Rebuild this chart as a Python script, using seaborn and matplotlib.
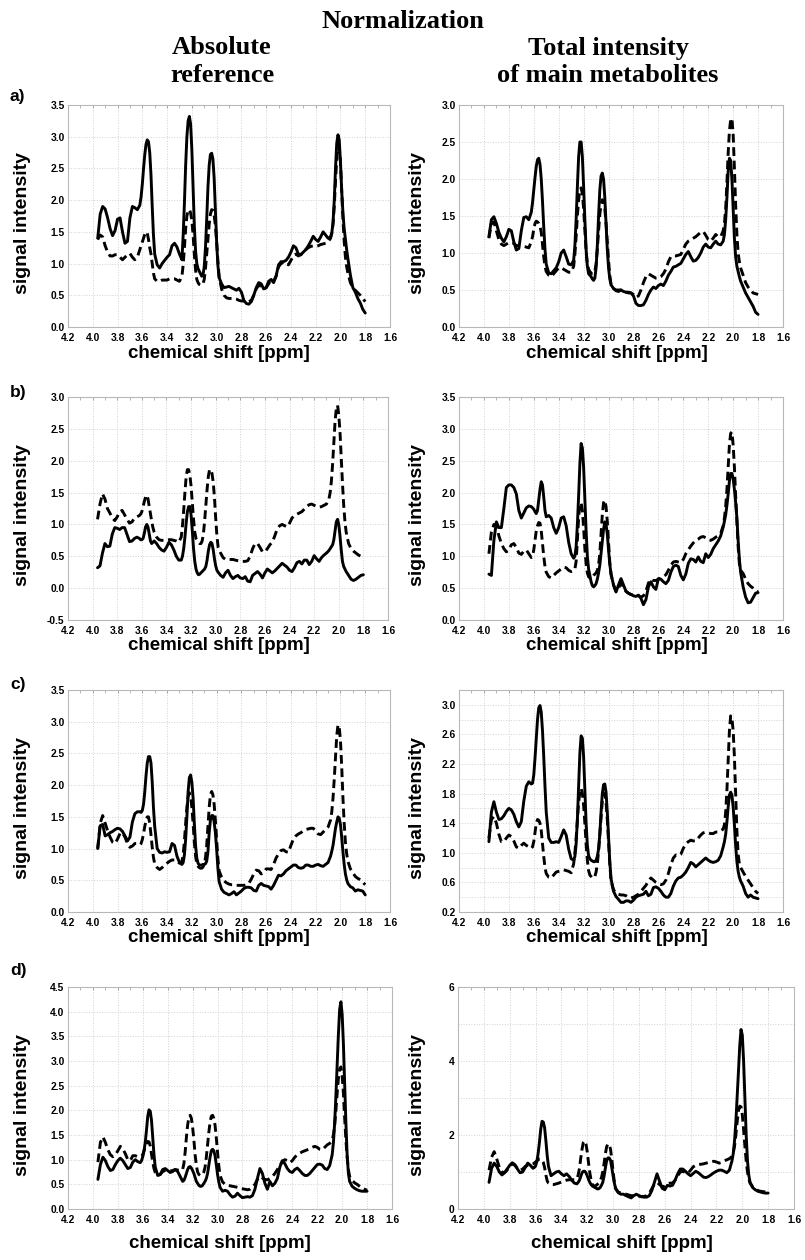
import numpy as np
import pandas as pd
import matplotlib
matplotlib.use("Agg")
import matplotlib.pyplot as plt
from matplotlib.ticker import MultipleLocator
import seaborn as sns

# chemical shift grid [ppm]; finer sampling across the sharp resonances
ppm = np.round(np.concatenate([
    np.arange(3.96, 3.615, -0.02),   # 3.96 ... 3.62
    np.arange(3.61, 3.495, -0.01),   # 3.61 ... 3.50
    np.arange(3.48, 3.275, -0.02),   # 3.48 ... 3.28
    np.arange(3.27, 2.975, -0.01),   # 3.27 ... 2.98
    np.arange(2.96, 2.075, -0.02),   # 2.96 ... 2.08
    np.arange(2.07, 1.935, -0.01),   # 2.07 ... 1.94
    np.arange(1.92, 1.795, -0.02),   # 1.92 ... 1.80
]), 2)

x_ticks = [4.2, 4.0, 3.8, 3.6, 3.4, 3.2, 3.0, 2.8, 2.6, 2.4, 2.2, 2.0, 1.8, 1.6]

# ---------------- a) ----------------
a_abs_solid = [
    1.40, 1.78, 1.90, 1.86, 1.72, 1.55, 1.44, 1.52, 1.70, 1.72, 1.50, 1.32, 1.35, 1.72, 1.90, 1.88, 1.85, 1.92,
    2.05, 2.25, 2.50, 2.72, 2.88, 2.95, 2.92, 2.75, 2.40, 1.90, 1.45, 1.15,
    0.98, 0.93, 1.00, 1.05, 1.10, 1.14, 1.28, 1.32, 1.26, 1.15, 1.06,
    1.45, 1.95, 2.55, 3.00, 3.25, 3.32, 3.20, 2.80, 2.20, 1.60,
    1.20, 1.00, 0.92, 0.88, 0.84, 0.80, 0.82, 0.95, 1.25, 1.70,
    2.20, 2.55, 2.72, 2.74, 2.65, 2.35, 1.85, 1.35, 0.98, 0.78,
    0.68, 0.62, 0.63, 0.64, 0.62, 0.60, 0.58, 0.61, 0.55, 0.42,
    0.37, 0.36, 0.40, 0.50, 0.62, 0.70, 0.68, 0.60, 0.62, 0.72,
    0.75, 0.70, 0.80, 0.98, 1.03, 1.03, 1.05, 1.10, 1.18, 1.28,
    1.25, 1.15, 1.14, 1.18, 1.22, 1.28, 1.35, 1.43, 1.38, 1.35,
    1.42, 1.50, 1.45, 1.40, 1.42,
    1.48, 1.65, 2.00, 2.50, 2.90, 3.03, 2.95, 2.60, 2.15, 1.80, 1.55, 1.38, 1.22, 1.08,
    0.82, 0.62, 0.55, 0.45, 0.38, 0.28, 0.22,
]
a_abs_dash = [
    1.38, 1.45, 1.42, 1.28, 1.18, 1.12, 1.12, 1.14, 1.14, 1.10, 1.06, 1.10, 1.14, 1.16, 1.10, 1.06, 1.10, 1.22,
    1.28, 1.34, 1.40, 1.46, 1.50, 1.48, 1.38, 1.25, 1.15, 1.00, 0.85, 0.76,
    0.72, 0.72, 0.74, 0.74, 0.74, 0.76, 0.76, 0.76, 0.74, 0.72, 0.80,
    0.98, 1.25, 1.55, 1.75, 1.84, 1.85, 1.80, 1.68, 1.45, 1.15,
    0.90, 0.75, 0.70, 0.67, 0.66, 0.66, 0.68, 0.75, 0.92, 1.15,
    1.40, 1.62, 1.78, 1.85, 1.84, 1.76, 1.60, 1.35, 1.05, 0.80,
    0.60, 0.50, 0.46, 0.45, 0.45, 0.45, 0.44, 0.42, 0.41, 0.41,
    0.40, 0.40, 0.42, 0.50, 0.60, 0.66, 0.64, 0.60, 0.62, 0.68,
    0.74, 0.72, 0.80, 0.95, 1.00, 1.02, 1.00, 0.98, 1.05, 1.12,
    1.15, 1.12, 1.14, 1.18, 1.22, 1.25, 1.27, 1.28, 1.27, 1.28,
    1.30, 1.31, 1.32, 1.34, 1.40,
    1.48, 1.62, 1.90, 2.30, 2.65, 2.85, 2.85, 2.60, 2.15, 1.70, 1.35, 1.10, 0.95, 0.85,
    0.70, 0.62, 0.58, 0.54, 0.50, 0.45, 0.40,
]
a_tot_solid = [
    1.22, 1.45, 1.49, 1.40, 1.28, 1.20, 1.15, 1.22, 1.32, 1.30, 1.15, 1.04, 1.06, 1.30, 1.48, 1.49, 1.45, 1.55,
    1.68, 1.85, 2.02, 2.17, 2.26, 2.28, 2.20, 2.00, 1.70, 1.35, 1.05, 0.85,
    0.73, 0.72, 0.76, 0.80, 0.88, 1.00, 1.04, 0.95, 0.85, 0.84, 0.90,
    1.10, 1.45, 1.90, 2.30, 2.50, 2.50, 2.30, 1.90, 1.45, 1.05,
    0.82, 0.72, 0.70, 0.68, 0.65, 0.63, 0.66, 0.80, 1.10, 1.50,
    1.85, 2.04, 2.08, 2.00, 1.75, 1.40, 1.05, 0.80, 0.65, 0.57,
    0.52, 0.49, 0.48, 0.50, 0.48, 0.47, 0.46, 0.46, 0.42, 0.32,
    0.29, 0.29, 0.30, 0.36, 0.44, 0.50, 0.54, 0.52, 0.56, 0.58,
    0.56, 0.62, 0.70, 0.75, 0.81, 0.82, 0.84, 0.86, 0.92, 0.98,
    1.02, 0.95, 0.89, 0.90, 0.94, 1.00, 1.08, 1.12, 1.08, 1.07,
    1.12, 1.16, 1.12, 1.11, 1.16,
    1.25, 1.45, 1.75, 2.10, 2.28, 2.25, 2.00, 1.60, 1.20, 0.95, 0.82, 0.75, 0.68, 0.62,
    0.54, 0.46, 0.40, 0.34, 0.28, 0.20, 0.17,
]
a_tot_dash = [
    1.20, 1.40, 1.42, 1.30, 1.18, 1.12, 1.10, 1.12, 1.14, 1.14, 1.13, 1.10, 1.10, 1.10, 1.09, 1.08, 1.07, 1.15,
    1.22, 1.32, 1.40, 1.43, 1.42, 1.40, 1.36, 1.28, 1.12, 0.95, 0.82, 0.75,
    0.70, 0.68, 0.72, 0.76, 0.80, 0.80, 0.78, 0.76, 0.74, 0.74, 0.82,
    0.98, 1.22, 1.50, 1.72, 1.85, 1.88, 1.80, 1.60, 1.30, 1.02,
    0.85, 0.78, 0.75, 0.73, 0.72, 0.72, 0.75, 0.85, 1.05, 1.30,
    1.52, 1.66, 1.72, 1.70, 1.60, 1.40, 1.15, 0.90, 0.70, 0.58,
    0.52, 0.50, 0.50, 0.50, 0.48, 0.47, 0.47, 0.46, 0.44, 0.40,
    0.42, 0.50, 0.60, 0.68, 0.72, 0.70, 0.68, 0.66, 0.66, 0.68,
    0.72, 0.78, 0.88, 0.95, 0.96, 0.96, 0.97, 0.98, 1.05, 1.12,
    1.16, 1.18, 1.20, 1.22, 1.25, 1.28, 1.29, 1.24, 1.18, 1.16,
    1.20, 1.25, 1.22, 1.22, 1.30,
    1.40, 1.60, 1.95, 2.35, 2.65, 2.80, 2.82, 2.60, 2.15, 1.65, 1.25, 1.00, 0.88, 0.80,
    0.70, 0.60, 0.54, 0.50, 0.46, 0.45, 0.44,
]

# ---------------- b) ----------------
b_abs_solid = [
    0.32, 0.35, 0.55, 0.70, 0.65, 0.66, 0.85, 0.95, 0.94, 0.92, 0.95, 0.95, 0.84, 0.73, 0.74, 0.78, 0.80, 0.78,
    0.76, 0.76, 0.78, 0.86, 0.96, 1.00, 0.96, 0.85, 0.74, 0.70, 0.72, 0.74,
    0.70, 0.64, 0.60, 0.58, 0.64, 0.72, 0.68, 0.60, 0.50, 0.44, 0.44,
    0.50, 0.62, 0.80, 1.02, 1.20, 1.28, 1.28, 1.15, 0.90, 0.62,
    0.42, 0.30, 0.24, 0.21, 0.22, 0.24, 0.26, 0.28, 0.30, 0.34,
    0.44, 0.58, 0.68, 0.72, 0.70, 0.60, 0.46, 0.35, 0.28, 0.25,
    0.20, 0.17, 0.24, 0.28, 0.20, 0.15, 0.18, 0.20, 0.16, 0.15,
    0.18, 0.11, 0.10, 0.20, 0.23, 0.26, 0.22, 0.16, 0.24, 0.30,
    0.27, 0.24, 0.27, 0.31, 0.35, 0.39, 0.36, 0.33, 0.28, 0.26,
    0.32, 0.40, 0.42, 0.38, 0.44, 0.44, 0.37, 0.42, 0.51, 0.46,
    0.42, 0.48, 0.52, 0.55, 0.59,
    0.62, 0.65, 0.68, 0.76, 0.90, 1.04, 1.08, 1.00, 0.82, 0.60, 0.42, 0.34, 0.30, 0.26,
    0.20, 0.14, 0.12, 0.14, 0.17, 0.20, 0.21,
]
b_abs_dash = [
    1.08, 1.32, 1.48, 1.40, 1.25, 1.18, 1.10, 1.06, 1.12, 1.20, 1.22, 1.15, 1.08, 1.02, 1.04, 1.10, 1.12, 1.14,
    1.16, 1.20, 1.28, 1.36, 1.43, 1.46, 1.40, 1.28, 1.15, 1.05, 0.95, 0.88,
    0.80, 0.76, 0.75, 0.75, 0.75, 0.76, 0.76, 0.75, 0.74, 0.72, 0.80,
    0.98, 1.22, 1.50, 1.75, 1.86, 1.86, 1.78, 1.60, 1.35, 1.08,
    0.88, 0.78, 0.74, 0.72, 0.70, 0.70, 0.74, 0.85, 1.05, 1.30,
    1.55, 1.75, 1.86, 1.86, 1.80, 1.66, 1.42, 1.10, 0.82, 0.64,
    0.55, 0.48, 0.45, 0.45, 0.45, 0.45, 0.44, 0.43, 0.42, 0.42,
    0.42, 0.43, 0.50, 0.62, 0.70, 0.70, 0.64, 0.57, 0.57, 0.62,
    0.68, 0.72, 0.82, 0.93, 0.98, 1.00, 0.98, 0.96, 1.02, 1.10,
    1.14, 1.16, 1.18, 1.20, 1.24, 1.28, 1.31, 1.32, 1.30, 1.28,
    1.27, 1.28, 1.30, 1.32, 1.40,
    1.50, 1.68, 1.95, 2.30, 2.62, 2.82, 2.87, 2.72, 2.45, 2.05, 1.65, 1.30, 1.05, 0.88,
    0.70, 0.62, 0.58, 0.55, 0.52, 0.50, 0.48,
]
b_tot_solid = [
    0.72, 0.70, 1.25, 1.54, 1.45, 1.45, 1.75, 2.08, 2.12, 2.12, 2.08, 1.98, 1.72, 1.60, 1.68, 1.76, 1.79, 1.78,
    1.76, 1.74, 1.70, 1.67, 1.72, 1.88, 2.05, 2.17, 2.12, 1.93, 1.72, 1.62,
    1.64, 1.60, 1.45, 1.36, 1.45, 1.60, 1.62, 1.48, 1.22, 1.04, 0.97,
    1.00, 1.15, 1.50, 1.95, 2.45, 2.77, 2.70, 2.40, 1.90, 1.40,
    1.00, 0.80, 0.70, 0.60, 0.54, 0.52, 0.54, 0.57, 0.64, 0.74,
    0.86, 1.05, 1.25, 1.42, 1.54, 1.50, 1.35, 1.10, 0.88, 0.72,
    0.55, 0.44, 0.55, 0.65, 0.55, 0.45, 0.42, 0.40, 0.38, 0.37,
    0.39, 0.34, 0.24, 0.32, 0.52, 0.60, 0.52, 0.48, 0.65, 0.64,
    0.60, 0.57, 0.62, 0.75, 0.84, 0.86, 0.84, 0.70, 0.63, 0.72,
    0.89, 0.96, 0.95, 0.91, 0.99, 0.92, 0.90, 1.04, 0.98, 1.03,
    1.12, 1.18, 1.24, 1.32, 1.46,
    1.55, 1.65, 1.80, 1.98, 2.18, 2.30, 2.30, 2.22, 2.05, 1.85, 1.60, 1.25, 0.95, 0.75,
    0.52, 0.36, 0.27, 0.28, 0.35, 0.42, 0.43,
]
b_tot_dash = [
    1.04, 1.38, 1.50, 1.48, 1.32, 1.20, 1.12, 1.07, 1.10, 1.18, 1.20, 1.14, 1.05, 1.03, 1.08, 1.10, 1.04, 0.98,
    1.00, 1.10, 1.25, 1.40, 1.48, 1.53, 1.52, 1.40, 1.20, 1.00, 0.84, 0.75,
    0.68, 0.66, 0.70, 0.74, 0.77, 0.80, 0.83, 0.82, 0.78, 0.76, 0.78,
    0.80, 0.92, 1.25, 1.60, 1.82, 1.84, 1.72, 1.45, 1.12, 0.88,
    0.74, 0.68, 0.66, 0.65, 0.67, 0.70, 0.72, 0.74, 0.78, 0.86,
    1.05, 1.35, 1.65, 1.84, 1.88, 1.78, 1.55, 1.22, 0.90, 0.72,
    0.55, 0.45, 0.50, 0.58, 0.52, 0.45, 0.42, 0.40, 0.40, 0.39,
    0.38, 0.36, 0.38, 0.45, 0.58, 0.64, 0.62, 0.62, 0.64, 0.66,
    0.68, 0.71, 0.78, 0.86, 0.91, 0.92, 0.91, 0.90, 0.95, 1.04,
    1.10, 1.16, 1.21, 1.25, 1.27, 1.30, 1.31, 1.29, 1.26, 1.25,
    1.27, 1.30, 1.32, 1.36, 1.48,
    1.60, 1.78, 2.05, 2.40, 2.75, 2.93, 2.95, 2.75, 2.40, 1.95, 1.55, 1.15, 0.88, 0.78,
    0.73, 0.64, 0.57, 0.53, 0.50, 0.46, 0.44,
]

# ---------------- c) ----------------
c_abs_solid = [
    1.00, 1.36, 1.38, 1.20, 1.22, 1.25, 1.27, 1.30, 1.32, 1.31, 1.27, 1.20, 1.12, 1.18, 1.42, 1.55, 1.58, 1.58,
    1.57, 1.60, 1.70, 1.90, 2.15, 2.35, 2.45, 2.45, 2.35, 2.05, 1.65, 1.35,
    1.00, 0.94, 0.93, 0.95, 0.94, 0.95, 1.08, 1.05, 0.88, 0.78, 0.75,
    0.78, 0.90, 1.15, 1.50, 1.90, 2.12, 2.16, 2.05, 1.80, 1.40,
    1.05, 0.85, 0.77, 0.74, 0.74, 0.74, 0.75, 0.75, 0.76, 0.80,
    0.95, 1.25, 1.45, 1.52, 1.52, 1.42, 1.25, 1.00, 0.70, 0.48,
    0.36, 0.31, 0.29, 0.27, 0.29, 0.32, 0.27, 0.30, 0.33, 0.37,
    0.39, 0.39, 0.38, 0.34, 0.33, 0.42, 0.45, 0.42, 0.41, 0.40,
    0.36, 0.42, 0.50, 0.58, 0.57, 0.60, 0.65, 0.68, 0.71, 0.74,
    0.74, 0.70, 0.69, 0.70, 0.74, 0.74, 0.72, 0.72, 0.74, 0.75,
    0.73, 0.72, 0.75, 0.78, 0.88,
    0.96, 1.05, 1.18, 1.32, 1.42, 1.50, 1.48, 1.38, 1.18, 0.95, 0.75, 0.60, 0.51, 0.45,
    0.40, 0.38, 0.33, 0.35, 0.34, 0.33, 0.27,
]
c_abs_dash = [
    1.00, 1.40, 1.52, 1.40, 1.28, 1.18, 1.10, 1.08, 1.15, 1.24, 1.25, 1.18, 1.08, 1.02, 1.04, 1.08, 1.08, 1.06,
    1.08, 1.14, 1.24, 1.35, 1.44, 1.50, 1.50, 1.40, 1.22, 1.02, 0.86, 0.76,
    0.70, 0.67, 0.70, 0.74, 0.77, 0.80, 0.82, 0.82, 0.80, 0.77, 0.80,
    0.90, 1.12, 1.40, 1.65, 1.82, 1.88, 1.82, 1.65, 1.40, 1.10,
    0.88, 0.76, 0.72, 0.70, 0.69, 0.69, 0.71, 0.75, 0.85, 1.05,
    1.35, 1.65, 1.85, 1.90, 1.85, 1.70, 1.45, 1.15, 0.85, 0.65,
    0.55, 0.49, 0.46, 0.44, 0.43, 0.43, 0.42, 0.42, 0.42, 0.42,
    0.43, 0.45, 0.52, 0.60, 0.66, 0.65, 0.60, 0.62, 0.68, 0.68,
    0.67, 0.75, 0.85, 0.92, 0.97, 0.98, 0.95, 0.94, 1.05, 1.15,
    1.20, 1.23, 1.25, 1.28, 1.30, 1.31, 1.32, 1.32, 1.28, 1.23,
    1.22, 1.26, 1.30, 1.34, 1.45,
    1.58, 1.80, 2.10, 2.45, 2.78, 2.95, 2.92, 2.70, 2.30, 1.80, 1.40, 1.10, 0.92, 0.80,
    0.68, 0.62, 0.56, 0.53, 0.51, 0.47, 0.43,
]
c_tot_solid = [
    1.15, 1.55, 1.69, 1.55, 1.45, 1.46, 1.50, 1.56, 1.60, 1.58, 1.52, 1.42, 1.35, 1.42, 1.70, 1.90, 1.96, 1.93,
    1.94, 2.05, 2.28, 2.55, 2.80, 2.96, 2.99, 2.90, 2.65, 2.30, 1.90, 1.55,
    1.20, 1.14, 1.14, 1.15, 1.14, 1.22, 1.31, 1.24, 1.05, 0.92, 0.90,
    0.95, 1.12, 1.45, 1.90, 2.35, 2.58, 2.55, 2.30, 1.85, 1.40,
    1.10, 0.96, 0.92, 0.90, 0.89, 0.88, 0.88, 0.90, 0.95, 1.05,
    1.25, 1.55, 1.80, 1.92, 1.93, 1.82, 1.55, 1.20, 0.88, 0.65,
    0.48, 0.41, 0.37, 0.33, 0.33, 0.35, 0.35, 0.33, 0.36, 0.40,
    0.42, 0.43, 0.44, 0.48, 0.42, 0.44, 0.53, 0.54, 0.52, 0.48,
    0.43, 0.40, 0.40, 0.45, 0.55, 0.62, 0.66, 0.67, 0.70, 0.74,
    0.80, 0.87, 0.85, 0.81, 0.84, 0.87, 0.90, 0.93, 0.90, 0.88,
    0.87, 0.88, 0.90, 0.96, 1.08,
    1.15, 1.25, 1.42, 1.62, 1.78, 1.82, 1.78, 1.62, 1.38, 1.10, 0.88, 0.75, 0.67, 0.62,
    0.55, 0.45, 0.40, 0.43, 0.40, 0.39, 0.38,
]
c_tot_dash = [
    1.20, 1.45, 1.49, 1.40, 1.25, 1.15, 1.15, 1.20, 1.24, 1.22, 1.16, 1.08, 1.06, 1.10, 1.13, 1.10, 1.08, 1.06,
    1.08, 1.15, 1.28, 1.40, 1.45, 1.44, 1.40, 1.30, 1.12, 0.95, 0.80, 0.72,
    0.67, 0.66, 0.70, 0.74, 0.75, 0.76, 0.77, 0.76, 0.75, 0.73, 0.85,
    1.00, 1.20, 1.45, 1.68, 1.82, 1.87, 1.80, 1.64, 1.40, 1.12,
    0.90, 0.76, 0.70, 0.68, 0.66, 0.66, 0.68, 0.74, 0.85, 1.02,
    1.25, 1.50, 1.70, 1.80, 1.80, 1.68, 1.45, 1.15, 0.85, 0.62,
    0.50, 0.46, 0.44, 0.43, 0.43, 0.42, 0.40, 0.39, 0.40, 0.42,
    0.44, 0.48, 0.52, 0.56, 0.62, 0.66, 0.63, 0.60, 0.58, 0.57,
    0.58, 0.63, 0.72, 0.84, 0.93, 0.97, 0.96, 0.98, 1.06, 1.12,
    1.15, 1.17, 1.16, 1.16, 1.20, 1.24, 1.27, 1.28, 1.27, 1.26,
    1.26, 1.28, 1.28, 1.30, 1.32,
    1.38, 1.55, 1.85, 2.25, 2.65, 2.85, 2.82, 2.65, 2.30, 1.80, 1.30, 0.98, 0.85, 0.80,
    0.74, 0.68, 0.63, 0.58, 0.53, 0.48, 0.45,
]

# ---------------- d) ----------------
d_abs_solid = [
    0.60, 0.90, 1.05, 0.98, 0.86, 0.78, 0.80, 0.90, 0.98, 1.03, 0.98, 0.90, 0.82, 0.84, 0.95, 1.00, 0.96, 0.94,
    0.98, 1.06, 1.18, 1.35, 1.60, 1.88, 2.01, 1.98, 1.80, 1.45, 1.10, 0.85,
    0.68, 0.70, 0.80, 0.82, 0.78, 0.74, 0.76, 0.80, 0.76, 0.66, 0.56,
    0.58, 0.64, 0.72, 0.80, 0.85, 0.86, 0.83, 0.78, 0.72, 0.64,
    0.56, 0.52, 0.48, 0.46, 0.46, 0.48, 0.52, 0.56, 0.62, 0.72,
    0.88, 1.05, 1.18, 1.21, 1.18, 1.08, 0.90, 0.70, 0.55, 0.44,
    0.36, 0.38, 0.36, 0.29, 0.24, 0.26, 0.32, 0.27, 0.23, 0.24,
    0.25, 0.24, 0.27, 0.40, 0.62, 0.82, 0.72, 0.52, 0.40, 0.56,
    0.47, 0.52, 0.62, 0.85, 0.98, 0.92, 0.82, 0.76, 0.74, 0.80,
    0.83, 0.78, 0.72, 0.68, 0.68, 0.72, 0.78, 0.84, 0.90, 0.91,
    0.89, 0.82, 0.80, 0.88, 1.10,
    1.35, 1.75, 2.30, 2.95, 3.55, 4.05, 4.20, 3.95, 3.35, 2.55, 1.75, 1.10, 0.72, 0.56,
    0.46, 0.42, 0.39, 0.37, 0.36, 0.36, 0.36,
]
d_abs_dash = [
    0.95, 1.35, 1.46, 1.35, 1.20, 1.10, 1.06, 1.10, 1.18, 1.27, 1.22, 1.12, 1.00, 0.98, 1.08, 1.08, 1.06, 1.06,
    1.07, 1.10, 1.18, 1.26, 1.32, 1.37, 1.36, 1.28, 1.12, 0.95, 0.82, 0.74,
    0.68, 0.70, 0.76, 0.78, 0.78, 0.77, 0.78, 0.80, 0.79, 0.78, 0.80,
    0.92, 1.15, 1.45, 1.70, 1.86, 1.90, 1.84, 1.66, 1.40, 1.10,
    0.88, 0.75, 0.70, 0.68, 0.68, 0.70, 0.75, 0.85, 1.05, 1.30,
    1.55, 1.76, 1.88, 1.90, 1.84, 1.70, 1.45, 1.15, 0.88, 0.68,
    0.55, 0.50, 0.48, 0.47, 0.46, 0.45, 0.44, 0.42, 0.41, 0.40,
    0.39, 0.40, 0.44, 0.50, 0.60, 0.66, 0.63, 0.60, 0.59, 0.62,
    0.66, 0.72, 0.80, 0.88, 0.96, 1.00, 0.98, 0.94, 0.98, 1.05,
    1.10, 1.13, 1.16, 1.18, 1.20, 1.22, 1.25, 1.27, 1.25, 1.21,
    1.20, 1.25, 1.30, 1.33, 1.40,
    1.50, 1.70, 2.00, 2.35, 2.65, 2.84, 2.88, 2.70, 2.35, 1.85, 1.40, 1.05, 0.80, 0.66,
    0.58, 0.53, 0.50, 0.46, 0.42, 0.40, 0.38,
]
d_tot_solid = [
    0.72, 1.10, 1.24, 1.15, 1.00, 0.92, 0.98, 1.08, 1.18, 1.25, 1.20, 1.08, 0.98, 1.00, 1.12, 1.24, 1.18, 1.10,
    1.12, 1.16, 1.28, 1.50, 1.80, 2.15, 2.37, 2.35, 2.20, 1.85, 1.45, 1.15,
    0.90, 0.95, 1.00, 1.02, 0.95, 0.90, 0.95, 0.88, 0.78, 0.70, 0.68,
    0.72, 0.78, 0.88, 0.98, 1.02, 1.02, 0.98, 0.90, 0.80, 0.72,
    0.66, 0.62, 0.60, 0.58, 0.56, 0.54, 0.55, 0.58, 0.64, 0.72,
    0.88, 1.10, 1.30, 1.38, 1.38, 1.32, 1.12, 0.90, 0.70, 0.55,
    0.44, 0.40, 0.40, 0.36, 0.33, 0.30, 0.36, 0.40, 0.36, 0.33,
    0.32, 0.32, 0.36, 0.50, 0.72, 0.95, 0.75, 0.56, 0.52, 0.64,
    0.62, 0.64, 0.78, 0.95, 1.08, 1.08, 1.02, 0.95, 0.90, 0.96,
    1.02, 0.98, 0.92, 0.86, 0.85, 0.88, 0.93, 0.98, 1.02, 1.05,
    1.05, 1.02, 0.98, 1.05, 1.30,
    1.50, 1.85, 2.35, 3.00, 3.70, 4.40, 4.85, 4.70, 4.00, 3.00, 2.00, 1.30, 0.92, 0.72,
    0.58, 0.52, 0.48, 0.46, 0.44, 0.43, 0.43,
]
d_tot_dash = [
    1.05, 1.40, 1.55, 1.35, 1.12, 1.00, 0.98, 1.05, 1.15, 1.22, 1.18, 1.10, 1.04, 1.08, 1.15, 1.18, 1.20, 1.22,
    1.24, 1.27, 1.30, 1.33, 1.35, 1.35, 1.32, 1.26, 1.12, 0.92, 0.76, 0.70,
    0.66, 0.66, 0.68, 0.70, 0.73, 0.76, 0.78, 0.79, 0.79, 0.79, 0.82,
    0.92, 1.10, 1.38, 1.62, 1.80, 1.84, 1.76, 1.55, 1.25, 0.98,
    0.78, 0.66, 0.62, 0.62, 0.64, 0.67, 0.70, 0.75, 0.85, 1.00,
    1.22, 1.48, 1.68, 1.76, 1.74, 1.62, 1.35, 1.02, 0.72, 0.55,
    0.46, 0.43, 0.42, 0.40, 0.38, 0.36, 0.36, 0.36, 0.35, 0.34,
    0.34, 0.36, 0.42, 0.55, 0.68, 0.72, 0.66, 0.60, 0.62, 0.68,
    0.70, 0.70, 0.78, 0.90, 1.00, 1.02, 0.98, 0.97, 1.05, 1.14,
    1.18, 1.20, 1.21, 1.22, 1.24, 1.26, 1.28, 1.29, 1.27, 1.24,
    1.26, 1.30, 1.33, 1.36, 1.42,
    1.52, 1.70, 2.00, 2.35, 2.65, 2.78, 2.76, 2.55, 2.15, 1.70, 1.30, 1.00, 0.82, 0.70,
    0.60, 0.54, 0.50, 0.48, 0.47, 0.46, 0.45,
]

# y tick labels of every panel
yt_a_abs = [0.0, 0.5, 1.0, 1.5, 2.0, 2.5, 3.0, 3.5]
yt_a_tot = [0.0, 0.5, 1.0, 1.5, 2.0, 2.5, 3.0]
yt_b_abs = [-0.5, 0.0, 0.5, 1.0, 1.5, 2.0, 2.5, 3.0]
yt_b_tot = [0.0, 0.5, 1.0, 1.5, 2.0, 2.5, 3.0, 3.5]
yt_c_abs = [0.0, 0.5, 1.0, 1.5, 2.0, 2.5, 3.0, 3.5]
yt_c_tot = [0.2, 0.6, 1.0, 1.4, 1.8, 2.2, 2.6, 3.0]
yt_d_abs = [0.0, 0.5, 1.0, 1.5, 2.0, 2.5, 3.0, 3.5, 4.0, 4.5]
yt_d_tot = [0, 2, 4, 6]

column_titles = [["Absolute", "reference"], ["Total intensity", "of main metabolites"]]
row_letters = ["a)", "b)", "c)", "d)"]

# ---------------------------------------------------------------------------
sns.set_theme(style="white")
plt.rcParams["font.family"] = ["Liberation Sans", "DejaVu Sans"]
plt.rcParams["font.weight"] = "bold"
plt.rcParams["axes.labelweight"] = "bold"
plt.rcParams["text.color"] = "black"
plt.rcParams["axes.labelcolor"] = "black"
plt.rcParams["xtick.labelcolor"] = "black"
plt.rcParams["ytick.labelcolor"] = "black"

W, H = 805, 1260
fig = plt.figure(figsize=(W / 100, H / 100), dpi=100)


def rect(x0, x1, y0, y1):
    return [x0 / W, 1 - y1 / H, (x1 - x0) / W, (y1 - y0) / H]


panels = [
    # solid, dashed, axes box (px), y ticks, y limits, y minor step, label format, x-label gap
    (a_abs_solid, a_abs_dash, rect(68, 390, 105, 327), yt_a_abs, (0.0, 3.5), None, "{:.1f}", 26),
    (a_tot_solid, a_tot_dash, rect(459, 783, 105, 327), yt_a_tot, (0.0, 3.0), None, "{:.1f}", 26),
    (b_abs_solid, b_abs_dash, rect(68, 388, 397, 620), yt_b_abs, (-0.5, 3.0), None, "{:.1f}", 26),
    (b_tot_solid, b_tot_dash, rect(459, 783, 397, 620), yt_b_tot, (0.0, 3.5), None, "{:.1f}", 26),
    (c_abs_solid, c_abs_dash, rect(68, 390, 690, 912), yt_c_abs, (0.0, 3.5), None, "{:.1f}", 26),
    (c_tot_solid, c_tot_dash, rect(459, 783, 690, 912), yt_c_tot, (0.2, 3.2), 0.2, "{:.1f}", 26),
    (d_abs_solid, d_abs_dash, rect(68, 392, 987, 1209), yt_d_abs, (0.0, 4.5), None, "{:.1f}", 34),
    (d_tot_solid, d_tot_dash, rect(458, 794, 987, 1209), yt_d_tot, (0.0, 6.0), 1.0, "{:.0f}", 34),
]

spine_col = "#b8b8b8"
grid_col = "#d2d2d2"

for i, (solid, dash, box, yt, ylim, yminor, fmt, xlab_gap) in enumerate(panels):
    ax = fig.add_axes(box)
    n = len(ppm)
    df = pd.DataFrame({
        "ppm": np.concatenate([ppm, ppm]),
        "signal": np.concatenate([np.asarray(dash, float), np.asarray(solid, float)]),
        "curve": ["dashed"] * n + ["solid"] * n,
    })
    sns.lineplot(data=df, x="ppm", y="signal", style="curve",
                 style_order=["dashed", "solid"],
                 dashes={"solid": "", "dashed": (3.0, 1.6)},
                 color="black", linewidth=2.1, estimator=None, sort=False,
                 legend=False, ax=ax)

    ax.set_xlim(4.2, 1.6)
    ax.set_ylim(*ylim)
    ax.set_xticks(x_ticks)
    ax.set_xticklabels([f"{t:.1f}" for t in x_ticks])
    ax.xaxis.set_minor_locator(MultipleLocator(0.1))
    ax.set_yticks(yt)
    ax.set_yticklabels([fmt.format(t) for t in yt])
    if yminor is not None:
        ax.yaxis.set_minor_locator(MultipleLocator(yminor))
        ax.grid(which="minor", axis="y", color=grid_col, linestyle=":", linewidth=0.7)
    ax.grid(which="major", color=grid_col, linestyle=":", linewidth=0.7)
    ax.set_axisbelow(True)

    ax.tick_params(which="both", direction="in", color="#999999", top=True, right=False,
                   labelsize=7.4, labelcolor="black")
    ax.tick_params(axis="x", which="major", pad=4.5)
    ax.tick_params(axis="y", which="major", pad=2.5)
    ax.tick_params(which="major", length=2.5, width=0.6)
    ax.tick_params(which="minor", length=2.0, width=0.5)
    for s in ax.spines.values():
        s.set_color(spine_col)
        s.set_linewidth(0.8)

    col = i % 2
    h_px = box[3] * H
    w_px = box[2] * W
    ax.set_xlabel("chemical shift [ppm]", fontsize=13.5, fontweight="bold", color="black")
    ax.xaxis.label.set_va("center")
    ax.xaxis.set_label_coords(0.47 if col == 0 else 0.488, -xlab_gap / h_px)
    ax.set_ylabel("signal intensity", fontsize=14, fontweight="bold", color="black")
    ax.yaxis.label.set_va("center")
    ylab_x = 22 if col == 0 else 417
    ax.yaxis.set_label_coords((ylab_x - box[0] * W) / w_px, 0.47)

# headings
serif = ["Liberation Serif", "DejaVu Serif"]
fig.text(403 / W, 1 - 21 / H, "Normalization", ha="center", va="center",
         family=serif, fontweight="bold", fontsize=19, color="black")
for (line1, line2), xc in zip(column_titles, [222, 608]):
    fig.text(xc / W, 1 - 48 / H, line1, ha="center", va="center",
             family=serif, fontweight="bold", fontsize=19, color="black")
    fig.text(xc / W, 1 - 75 / H, line2, ha="center", va="center",
             family=serif, fontweight="bold", fontsize=19, color="black")

for letter, yc in zip(row_letters, [97, 393, 684, 971]):
    fig.text(10 / W, 1 - yc / H, letter, ha="left", va="center", fontsize=12.5,
             fontweight="bold", color="black")

fig.savefig("out.png", dpi=100)
